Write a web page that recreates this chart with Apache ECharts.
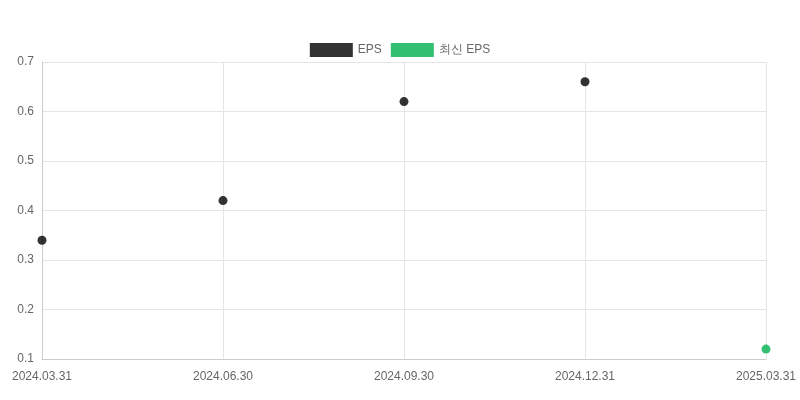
<!DOCTYPE html>
<html>
<head>
<meta charset="utf-8">
<script src="https://cdn.jsdelivr.net/npm/echarts@6/dist/echarts.min.js"></script>
<style>html,body{margin:0;padding:0;background:#fff}#chart{width:800px;height:400px}</style>
</head>
<body>
<div id="chart"></div>
<script>
let categories = ['2024.03.31', '2024.06.30', '2024.09.30', '2024.12.31', '2025.03.31'];
let epsValues = [0.34, 0.42, 0.62, 0.66, null];
let latestEpsValues = [null, null, null, null, 0.12];

let chart = echarts.init(document.getElementById('chart'));
chart.setOption({
    animation: false,
    textStyle: {fontFamily: 'Liberation Sans, Arial, sans-serif'},
    legend: {
        top: 38, itemWidth: 43, itemHeight: 14, itemGap: 9,
        textStyle: {color: '#666', fontSize: 12},
        data: [{name: 'EPS', icon: 'rect'}, {name: '최신 EPS', icon: 'rect'}]
    },
    grid: {left: 42, right: 34, top: 62, bottom: 41},
    xAxis: {
        type: 'category', data: categories, boundaryGap: false,
        axisLine: {lineStyle: {color: '#ccc'}},
        axisTick: {show: false},
        axisLabel: {color: '#666', fontSize: 12, margin: 12},
        splitLine: {show: true, lineStyle: {color: '#e5e5e5'}}
    },
    yAxis: {
        type: 'value', min: 0.1, max: 0.7, interval: 0.1,
        axisLine: {show: true, lineStyle: {color: '#ccc'}},
        axisLabel: {color: '#666', fontSize: 12, formatter: function (v) { return v.toFixed(1); }},
        splitLine: {lineStyle: {color: '#e5e5e5'}}
    },
    series: [
        {name: 'EPS', type: 'scatter', data: epsValues, symbolSize: 9, itemStyle: {color: '#000'}},
        {name: '최신 EPS', type: 'scatter', data: latestEpsValues, symbolSize: 9, itemStyle: {color: '#00b050'}}
    ]
});
</script>
</body>
</html>
